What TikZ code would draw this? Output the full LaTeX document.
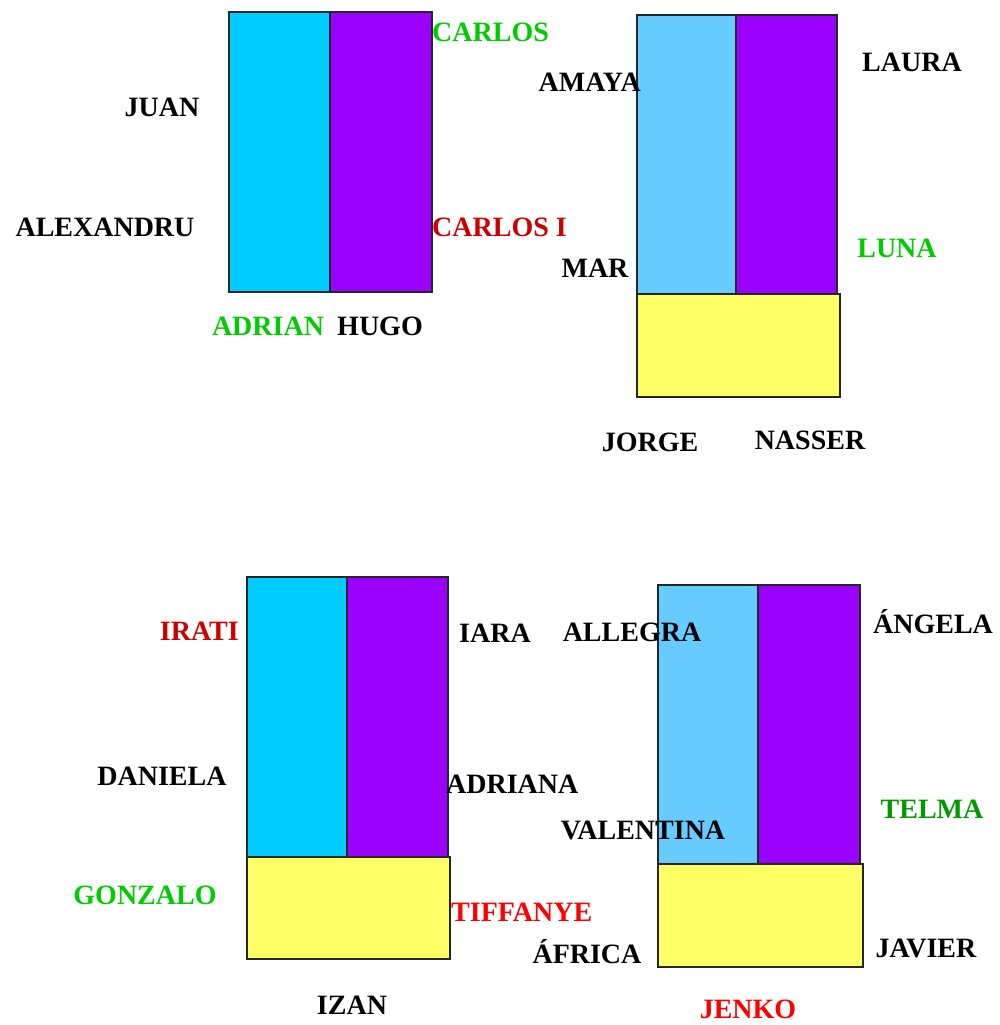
\documentclass[tikz,border=0pt]{standalone}
\usepackage{fontspec}
\setmainfont{Liberation Serif}
\begin{document}
\begin{tikzpicture}[x=1pt,y=-1pt,
  box/.style={draw=black!85,line width=2.5pt},
  lbl/.style={inner sep=0pt,font=\fontsize{28}{30}\selectfont\bfseries},
  nm/.style={lbl,text=black},
  gn/.style={lbl,text=green!80!black},
  gd/.style={lbl,text=green!60!black},
  rd/.style={lbl,text=red!80!black},
  rb/.style={lbl,text=red}]
\definecolor{cyanA}{HTML}{00CCFF}
\definecolor{cyanB}{HTML}{66CCFF}
\definecolor{purp}{HTML}{9900FF}
\definecolor{yell}{HTML}{FFFF66}
\useasboundingbox[fill=white] (0,0) rectangle (999,1025);
% box 1
\filldraw[box,fill=cyanA] (229,12) rectangle (330,292);
\filldraw[box,fill=purp] (330,12) rectangle (432,292);
% box 2
\filldraw[box,fill=cyanB] (637,15) rectangle (736,294);
\filldraw[box,fill=purp] (736,15) rectangle (837,294);
\filldraw[box,fill=yell] (637,294) rectangle (840,397);
% box 3
\filldraw[box,fill=cyanA] (247,577) rectangle (347,857);
\filldraw[box,fill=purp] (347,577) rectangle (448,857);
\filldraw[box,fill=yell] (247,857) rectangle (450,959);
% box 4
\filldraw[box,fill=cyanB] (658,585) rectangle (758,864);
\filldraw[box,fill=purp] (758,585) rectangle (860,864);
\filldraw[box,fill=yell] (658,864) rectangle (863,967);
% labels
\node[nm] (juan) at (162,107) {JUAN};
\node[nm] (alexandru) at (105,227) {ALEXANDRU};
\node[gn,anchor=west] (carlos) at (432,32) {CARLOS};
\node[rd,anchor=west] (carlosi) at (432,227) {CARLOS I};
\node[gn] (adrian) at (268,326) {ADRIAN};
\node[nm] (hugo) at (380,326) {HUGO};
\node[nm,anchor=east] (amaya) at (641,82) {AMAYA};
\node[nm] (mar) at (595,268) {MAR};
\node[nm] (laura) at (912,62) {LAURA};
\node[gn] (luna) at (897,248) {LUNA};
\node[nm] (jorge) at (650,442) {JORGE};
\node[nm] (nasser) at (810,440) {NASSER};
\node[rd,anchor=east] (irati) at (239,631) {IRATI};
\node[nm] (daniela) at (162,776) {DANIELA};
\node[gn] (gonzalo) at (145,895) {GONZALO};
\node[nm] (iara) at (495,633) {IARA};
\node[nm,anchor=west] (adriana) at (446,784) {ADRIANA};
\node[rb,anchor=west] (tiffanye) at (451,912) {TIFFANYE};
\node[nm] (izan) at (352,1005) {IZAN};
\node[nm] (allegra) at (632,632) {ALLEGRA};
\node[nm] (angela) at (933,622) {ÁNGELA};
\node[nm] (valentina) at (643,830) {VALENTINA};
\node[gd] (telma) at (932,809) {TELMA};
\node[nm] (africa) at (587,952) {ÁFRICA};
\node[nm] (javier) at (926,948) {JAVIER};
\node[rb] (jenko) at (748,1009) {JENKO};
\end{tikzpicture}
\end{document}
